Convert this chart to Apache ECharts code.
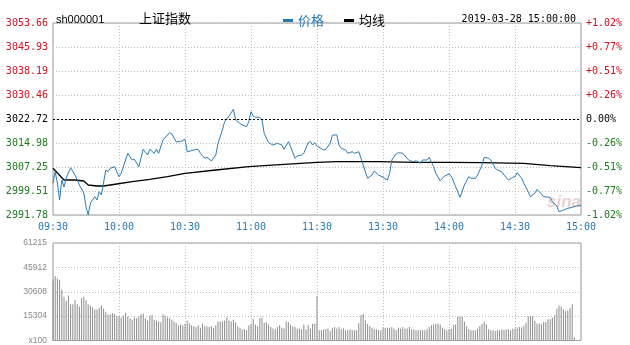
<!DOCTYPE html>
<html><head><meta charset="utf-8">
<script src="https://cdn.jsdelivr.net/npm/echarts@6/dist/echarts.min.js"></script>
<style>html,body{margin:0;padding:0;background:#fff}#c{width:630px;height:345px}</style>
</head><body><div id="c"></div>
<script>
const timeTicks = ['09:30','10:00','10:30','11:00','11:30','13:30','14:00','14:30','15:00'];
const priceTicks = ['2991.78','2999.51','3007.25','3014.98','3022.72','3030.46','3038.19','3045.93','3053.66'];
const pctTicks = ['-1.02%','-0.77%','-0.51%','-0.26%','0.00%','+0.26%','+0.51%','+0.77%','+1.02%'];
const volTicks = ['x100','15304','30608','45912','61215'];
const prevClose = 3022.72;
const priceMin = 2991.78, priceMax = 3053.66, priceStep = 7.735;
const volMax = 61215, volStep = 15303.75;
const minutes = 240;

// [minute index, price]
const pricePoints = [
[0,3002.00],[1,3005.73],[2,3002.09],[3,2996.61],[4,3003.06],[5,3000.80],[6,3003.71],[8,3007.02],[10,3004.67],[12,3001.45],
[14,2998.87],[15,2994.45],[16,2991.78],[17,2995.65],[19,2997.68],[20,2996.61],[21,2999.29],[22,2998.23],[24,3006.28],[25,3005.73],
[26,3006.83],[28,3007.35],[30,3004.12],[31,3005.22],[34,3011.67],[36,3009.51],[37,3009.73],[39,3007.35],[41,3012.95],[43,3011.12],
[44,3012.95],[46,3011.67],[47,3012.95],[48,3011.67],[50,3015.95],[53,3018.30],[54,3017.89],[56,3015.40],[58,3015.40],[60,3016.18],
[61,3012.18],[64,3012.73],[66,3012.95],[67,3011.67],[69,3010.05],[70,3010.38],[72,3009.18],[74,3011.12],[75,3014.89],[77,3019.17],
[78,3021.85],[80,3023.69],[82,3025.85],[83,3022.40],[84,3021.80],[86,3020.79],[88,3020.24],[89,3021.85],[90,3025.07],[91,3023.69],
[92,3023.27],[94,3023.27],[95,3022.40],[96,3018.11],[98,3015.08],[100,3014.34],[102,3014.89],[104,3014.34],[105,3012.95],[107,3015.40],
[108,3013.79],[110,3010.05],[111,3010.80],[113,3011.12],[114,3011.67],[116,3015.08],[117,3015.40],[118,3014.34],[119,3015.08],[120,3014.02],
[123,3012.73],[124,3012.95],[126,3014.89],[127,3017.56],[129,3017.56],[130,3014.34],[131,3013.28],[133,3012.73],[134,3011.67],[136,3012.18],
[137,3011.67],[139,3012.18],[140,3010.05],[141,3007.89],[142,3005.64],[143,3003.61],[145,3004.67],[146,3005.96],[148,3004.67],[150,3003.93],
[152,3003.06],[153,3005.22],[154,3009.51],[156,3011.44],[157,3011.86],[159,3011.67],[160,3010.80],[162,3009.28],[164,3008.96],[165,3009.28],
[167,3008.44],[168,3009.51],[170,3009.51],[171,3010.38],[173,3007.35],[174,3005.22],[176,3002.83],[178,3004.35],[180,3004.99],[181,3004.35],
[183,3000.90],[185,2997.48],[187,3001.45],[189,3004.12],[190,3003.61],[192,3003.61],[193,3004.67],[195,3007.89],[196,3010.38],[198,3010.05],
[199,3009.51],[201,3006.83],[202,3006.28],[204,3005.73],[205,3004.67],[207,3003.06],[209,3003.93],[210,3004.12],[211,3005.41],[213,3003.61],
[214,3002.00],[216,2999.29],[217,2997.68],[219,2998.77],[220,3000.06],[222,2998.55],[223,2997.68],[226,2997.48],[227,2996.07],[229,2994.68],
[230,2992.84],[232,2993.39],[234,2993.94],[236,2994.26],[238,2994.68],[240,2994.94]
];

// [minute index, average price]
const avgPoints = [
[0,3006.83],[5,3003.06],[10,3003.06],[14,3002.74],[16,3001.45],[20,3001.13],[23,3001.13],[29,3001.77],[36,3002.51],[44,3003.29],
[52,3004.12],[60,3005.22],[74,3006.28],[89,3007.35],[105,3008.12],[120,3008.77],[129,3008.96],[148,3008.96],[164,3008.77],[180,3008.77],
[195,3008.64],[214,3008.44],[226,3007.67],[240,3007.02]
];

// volume per minute (x100)
const volumes = [
37700,40400,38800,38100,32000,27500,24900,28200,22800,22800,25500,22800,21400,26500,27500,25300,22800,21800,20800,19400,19400,20400,22000,20000,18000,16300,16300,17300,16700,15300,
15300,14500,15500,17500,15000,14000,13000,14500,14000,15000,16500,17000,14000,12500,15500,16000,13000,12500,12000,11500,16500,15500,14500,14000,13000,12000,11000,9500,10000,9500,
10500,12600,10600,9500,9000,8500,9500,8000,10500,9000,9000,8500,9000,8000,9500,12000,12000,12000,12500,14500,12500,12000,13000,11500,9000,8000,7000,7000,6500,9500,
10500,13500,10000,9000,14000,14500,11000,11500,10000,8500,7500,7000,8500,9500,8000,7500,12000,11500,10000,9000,8500,7500,7500,7000,10000,7000,9500,7500,10500,10500,
28000,
6500,6500,7000,7000,7500,6000,8000,8500,7500,8500,7000,7500,6500,6500,7000,6500,6500,6500,11000,16000,16500,12500,10500,9000,8000,7000,7000,6500,6500,8000,
8000,8000,8000,8500,7500,6500,8000,7500,8500,7500,7500,8500,7000,7000,6500,6500,6500,6500,6500,7000,8500,9500,10000,10500,10500,10000,8000,7000,6500,7000,
7500,9500,10000,15000,15000,15000,12000,9000,7000,6500,6500,6500,7500,9000,10500,12000,10000,7000,6500,6500,6000,6500,6500,7000,6500,7000,7000,6500,7500,7500,
8200,8500,8200,9200,11200,15300,15300,15300,12200,10600,10600,10200,11600,11600,13300,13300,14300,15900,20000,22000,21400,19400,18400,18800,20400,22800,2000,0,0,0
];

const RED = '#cc1020', GREEN = '#1d7a1d', BLUE = '#2b7bb2';
const MONO = '"DejaVu Sans Mono", monospace';
function pIdx(v){ return Math.round((+v - priceMin) / priceStep); }
function pColor(v){ const i = pIdx(v); return i > 4 ? RED : (i < 4 ? GREEN : '#000'); }
const dotted = {show:true, lineStyle:{color:'#bbb', type:[1,2], width:1}};

const chart = echarts.init(document.getElementById('c'), null, {renderer:'canvas'});
chart.setOption({
  animation:false,
  backgroundColor:'#fff',
  title:[
    {text:'sh000001', left:51, top:9, textStyle:{fontFamily:'"Liberation Sans", Arial, sans-serif', fontSize:11, fontWeight:'normal', color:'#000'}},
    {text:'上证指数', left:134, top:7, textStyle:{fontFamily:'"Noto Sans CJK SC", sans-serif', fontSize:13, fontWeight:'normal', color:'#000'}},
    {text:'2019-03-28 15:00:00', right:49, top:9, textStyle:{fontFamily:MONO, fontSize:10, fontWeight:'normal', color:'#000'}}
  ],
  legend:{
    left:278, top:9, icon:'rect', itemWidth:10, itemHeight:3, itemGap:20,
    textStyle:{fontFamily:'"Noto Sans CJK SC", sans-serif', fontSize:13},
    data:[{name:'价格', textStyle:{color:BLUE}}, {name:'均线', textStyle:{color:'#000'}}]
  },
  grid:[
    {left:53, top:23, width:528, height:192, show:true, borderColor:'#999', borderWidth:1, containLabel:false},
    {left:53, top:243, width:528, height:100, show:true, borderColor:'#999', borderWidth:1, containLabel:false}
  ],
  xAxis:[
    {type:'value', gridIndex:0, min:0, max:minutes, interval:30,
     axisLine:{show:false}, axisTick:{show:false}, splitLine:dotted,
     axisLabel:{show:true, margin:7, fontFamily:MONO, fontSize:10, color:BLUE, showMinLabel:true, showMaxLabel:true,
       formatter:v=>timeTicks[Math.round(v/30)] || ''}},
    {type:'value', gridIndex:1, min:0, max:minutes, interval:30,
     axisLine:{show:false}, axisTick:{show:false}, splitLine:dotted, axisLabel:{show:false}}
  ],
  yAxis:[
    {type:'value', gridIndex:0, min:priceMin, max:priceMax, interval:priceStep, position:'left',
     axisLine:{show:false}, axisTick:{show:false}, splitLine:dotted,
     axisLabel:{margin:5, fontFamily:MONO, fontSize:10, color:pColor, showMinLabel:true, showMaxLabel:true,
       formatter:v=>priceTicks[pIdx(v)] || ''}},
    {type:'value', gridIndex:0, min:priceMin, max:priceMax, interval:priceStep, position:'right',
     axisLine:{show:false}, axisTick:{show:false}, splitLine:{show:false},
     axisLabel:{margin:5, fontFamily:MONO, fontSize:10, color:pColor, showMinLabel:true, showMaxLabel:true,
       formatter:v=>pctTicks[pIdx(v)] || ''}},
    {type:'value', gridIndex:1, min:0, max:volMax, interval:volStep, position:'left',
     axisLine:{show:false}, axisTick:{show:false}, splitLine:dotted,
     axisLabel:{margin:6, fontFamily:'"Liberation Sans", Arial, sans-serif', fontSize:8.5, color:'#888', showMinLabel:true, showMaxLabel:true,
       formatter:v=>volTicks[Math.round(v/volStep)] || ''}}
  ],
  series:[
    {name:'价格', type:'line', xAxisIndex:0, yAxisIndex:0, data:pricePoints, showSymbol:false, symbol:'none',
     lineStyle:{color:BLUE, width:1}, itemStyle:{color:BLUE}, z:3,
     markLine:{silent:true, symbol:'none', label:{show:false}, animation:false,
       lineStyle:{color:'#000', type:[2,2], width:1}, data:[{yAxis:prevClose}]}},
    {name:'均线', type:'line', xAxisIndex:0, yAxisIndex:0, data:avgPoints, showSymbol:false, symbol:'none',
     lineStyle:{color:'#000', width:1.3}, itemStyle:{color:'#000'}, z:2},
    {name:'成交量', type:'bar', xAxisIndex:1, yAxisIndex:2, data:volumes.map((v,i)=>[i,v]),
     barWidth:1, itemStyle:{color:'#8c8c8c'}}
  ],
  graphic:[
    {type:'text', left:547, top:194, silent:true, z:1,
     style:{text:'sina', fill:'rgba(205,150,155,0.45)', font:'italic bold 17px "Liberation Sans", Arial, sans-serif'}}
  ]
});
</script>
</body></html>
